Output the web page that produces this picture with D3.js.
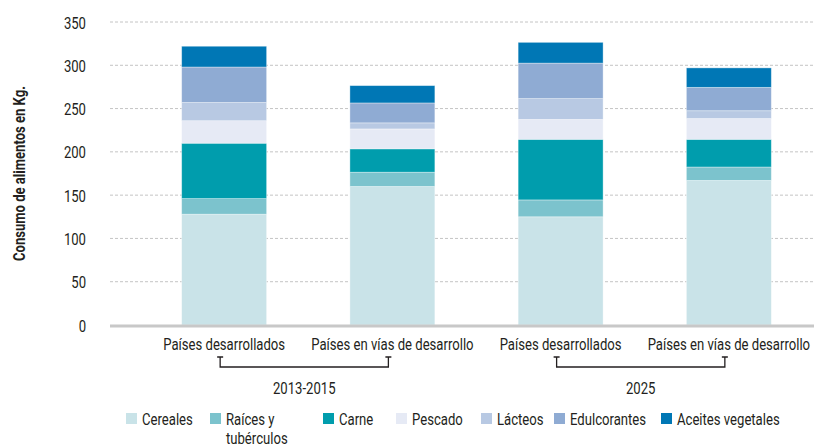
<!DOCTYPE html>
<html>
<head>
<meta charset="utf-8">
<script src="https://cdn.jsdelivr.net/npm/d3@7"></script>
<style>
  html, body { margin: 0; padding: 0; background: #fff; }
  svg { display: block; }
  text { font-family: "Roboto", "Liberation Sans", sans-serif; fill: #231f20; }
</style>
</head>
<body>
<svg id="chart" width="814" height="448"></svg>
<script>
// ---- Data ----
const years = ["2013-2015", "2025"];
const regions = ["Países desarrollados", "Países en vías de desarrollo"];
const series = ["Cereales", "Raíces y tubérculos", "Carne", "Pescado", "Lácteos", "Edulcorantes", "Aceites vegetales"];
// values per bar, order: 2013-2015 desarrollados, 2013-2015 en vías, 2025 desarrollados, 2025 en vías
const cereales      = [128, 160, 125, 167];
const raices        = [18, 16.5, 19.5, 15.5];
const carne         = [64, 27, 70, 32];
const pescado       = [26, 23, 23, 24];
const lacteos       = [21, 7, 24, 9];
const edulcorantes  = [41, 23, 41, 27];
const aceites       = [24, 20, 24, 22.5];
const yTicks = [0, 50, 100, 150, 200, 250, 300, 350];
const yTitle = "Consumo de alimentos en Kg.";

const colors = ["#c9e3e8", "#7cc3cd", "#009dad", "#e6eaf5", "#b8c9e3", "#8fabd3", "#0077b5"];

// ---- Build table ----
const seriesValues = [cereales, raices, carne, pescado, lacteos, edulcorantes, aceites];
const bars = [];
years.forEach((yr, yi) => regions.forEach((rg, ri) => {
  const idx = yi * regions.length + ri;
  const row = { key: yr + "|" + rg, year: yr, region: rg };
  series.forEach((s, si) => row[s] = seriesValues[si][idx]);
  bars.push(row);
}));
const stacked = d3.stack().keys(series)(bars);

// ---- Layout ----
const svg = d3.select("#chart");
const plotLeft = 110, plotRight = 814;
const x = d3.scaleBand().domain(bars.map(d => d.key)).range([110, 843])
  .paddingInner(0.495).paddingOuter(0.426);
const y = d3.scaleLinear().domain([0, 350]).range([325, 22]);

// condensed-text helper: measure a sample string and derive a horizontal squeeze
function measure(str, size, weight) {
  const t = svg.append("text").attr("font-size", size).attr("font-weight", weight || "normal").text(str);
  const w = t.node().getComputedTextLength();
  t.remove();
  return w;
}
const FS = 17;
const K = 122 / measure("Países desarrollados", FS);          // body text squeeze
const KT = 175 / measure(yTitle, 16, "bold");                  // title squeeze

function ctext(parent, px, py, str, anchor, k, size, weight) {
  return parent.append("text")
    .attr("transform", `translate(${px},${py}) scale(${k},1)`)
    .attr("text-anchor", anchor || "start")
    .attr("font-size", size || FS)
    .attr("font-weight", weight || "normal")
    .text(str);
}

// gridlines
svg.append("g").selectAll("line").data(yTicks.filter(t => t > 0)).join("line")
  .attr("x1", plotLeft).attr("x2", plotRight)
  .attr("y1", d => y(d)).attr("y2", d => y(d))
  .attr("stroke", "#c4c4c4").attr("stroke-width", 1).attr("stroke-dasharray", "3,2");

// y axis labels (via d3 axis, then squeezed)
const yAxis = d3.axisLeft(y).tickValues(yTicks).tickSize(0).tickPadding(0);
const yg = svg.append("g").attr("transform", "translate(86,0)").call(yAxis);
yg.select(".domain").remove();
yg.attr("font-family", null).attr("font-size", null);
yg.selectAll(".tick text")
  .attr("font-size", FS).attr("fill", "#231f20").attr("x", 0).attr("dy", null)
  .attr("y", 6)
  .attr("transform", `scale(${K},1)`);

// y title
svg.append("text")
  .attr("transform", `translate(25,${(y(0) + y(350)) / 2}) rotate(-90) scale(${KT},1)`)
  .attr("text-anchor", "middle").attr("font-size", 16).attr("font-weight", "bold")
  .text(yTitle);

// bars
svg.append("g").selectAll("g").data(stacked).join("g")
  .attr("fill", (d, i) => colors[i])
  .selectAll("rect").data(d => d).join("rect")
  .attr("x", d => x(d.data.key))
  .attr("width", x.bandwidth())
  .attr("y", d => y(d[1]))
  .attr("height", d => y(d[0]) - y(d[1]))
  .attr("stroke", "#ffffff").attr("stroke-opacity", 0.45).attr("stroke-width", 0.8);

// x axis baseline
svg.append("line").attr("x1", plotLeft).attr("x2", plotRight)
  .attr("y1", y(0) + 1).attr("y2", y(0) + 1)
  .attr("stroke", "#c8c8c8").attr("stroke-width", 3);

// category labels
const catG = svg.append("g");
bars.forEach(d => ctext(catG, x(d.key) + x.bandwidth() / 2, 350, d.region, "middle", K));

// group brackets and year labels
years.forEach(yr => {
  const grp = bars.filter(b => b.year === yr);
  const xs = grp.map(b => x(b.key) + x.bandwidth() / 2 - 4);
  svg.append("path")
    .attr("stroke", "#231f20").attr("stroke-width", 1.3).attr("fill", "none")
    .attr("d", `M${xs[0]},357 V367 H${xs[1]} V357 M${xs[0] - 3},357 H${xs[0] + 3} M${xs[1] - 3},357 H${xs[1] + 3}`);
  ctext(svg, (xs[0] + xs[1]) / 2, 394, yr, "middle", K);
});

// legend
const legendX = [126, 210, 323, 396, 481, 554, 661];
series.forEach((s, i) => {
  const g = svg.append("g").attr("transform", `translate(${legendX[i]},413)`);
  g.append("rect").attr("width", 11).attr("height", 11).attr("fill", colors[i]);
  if (s === "Raíces y tubérculos") {
    ctext(g, 16, 12, "Raíces y", "start", K);
    ctext(g, 16, 30.5, "tubérculos", "start", K);
  } else {
    ctext(g, 16, 12, s, "start", K);
  }
});
</script>
</body>
</html>
